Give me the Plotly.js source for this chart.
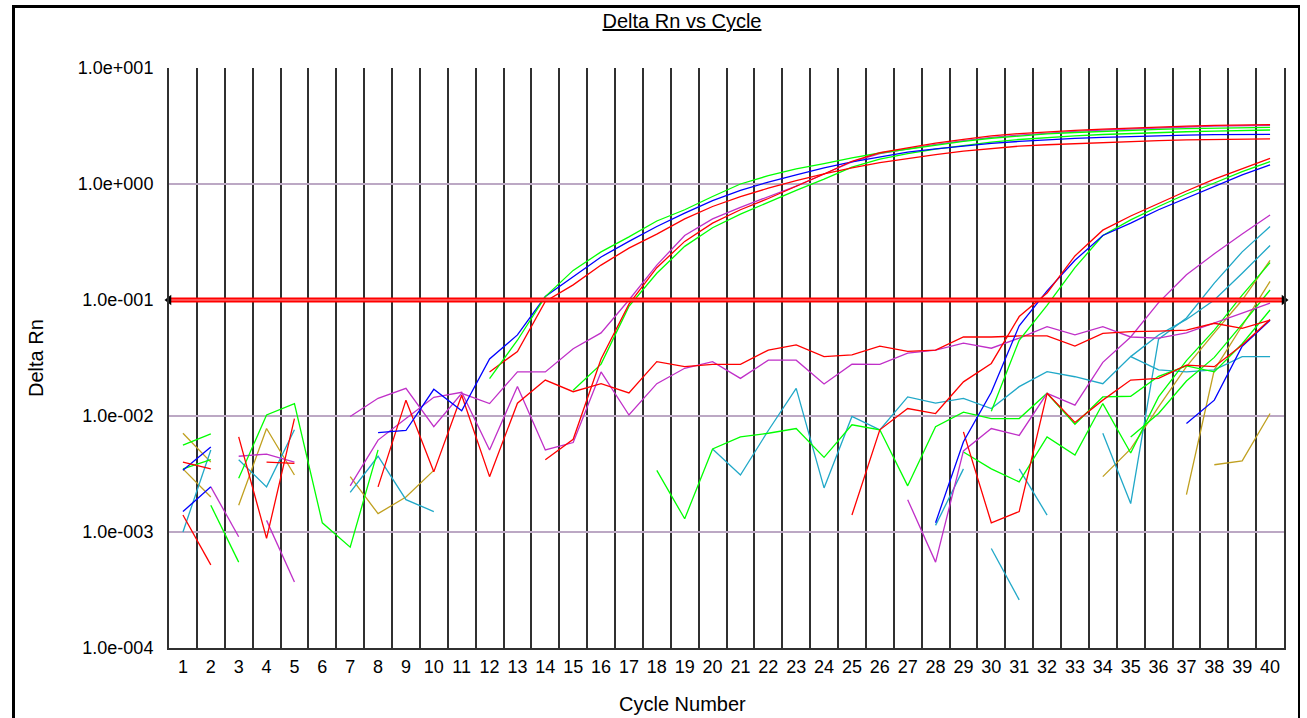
<!DOCTYPE html>
<html>
<head>
<meta charset="utf-8">
<script src="https://cdn.plot.ly/plotly-3.0.1.min.js"></script>
<style>
  html, body { margin: 0; padding: 0; background: #fff; }
  #wrap { position: relative; width: 1307px; height: 718px; overflow: hidden; }
  #chart { position: absolute; left: 0; top: 0; width: 1307px; height: 718px; }
  #frame { position: absolute; left: 12px; top: 5px; width: 1283px; height: 760px;
           border-left: 3px solid #000; border-top: 3px solid #000; border-right: 2px solid #000;
           pointer-events: none; }
</style>
</head>
<body>
<div id="wrap"><div id="chart"></div><div id="frame"></div></div>
<script>
// ---------------- data ----------------
const CYCLES = [1,2,3,4,5,6,7,8,9,10,11,12,13,14,15,16,17,18,19,20,21,22,23,24,25,26,27,28,29,30,31,32,33,34,35,36,37,38,39,40];
const CYCLE_LABELS = CYCLES.map(String);
const GRID_X = [0.5,1.5,2.5,3.5,4.5,5.5,6.5,7.5,8.5,9.5,10.5,11.5,12.5,13.5,14.5,15.5,16.5,17.5,18.5,19.5,20.5,21.5,22.5,23.5,24.5,25.5,26.5,27.5,28.5,29.5,30.5,31.5,32.5,33.5,34.5,35.5,36.5,37.5,38.5,39.5,40.5];
const Y_TICKS = [10, 1, 0.1, 0.01, 0.001, 0.0001];
const Y_TICK_LABELS = ["1.0e+001","1.0e+000","1.0e-001","1.0e-002","1.0e-003","1.0e-004"];
const THRESHOLD = 0.1;

// each series: first cycle, then Delta Rn values for consecutive cycles
const EARLY_GREEN = [12, 0.021,0.045,0.107,0.18,0.26,0.35,0.48,0.60,0.78,1.0,1.18,1.35,1.5,1.68,1.85,2.0,2.17,2.33,2.48,2.6,2.7,2.78,2.85,2.9,2.96,3.0,3.03,3.06,3.08];
const EARLY_BLUE = [8, 0.0072,0.0075,0.017,0.0111,0.031,0.05,0.107,0.16,0.235,0.32,0.43,0.56,0.72,0.88,1.04,1.2,1.38,1.55,1.72,1.88,2.01,2.13,2.24,2.33,2.41,2.47,2.52,2.57,2.61,2.64,2.66,2.67,2.68];
const EARLY_RED = [12, 0.024,0.036,0.097,0.135,0.2,0.28,0.37,0.5,0.64,0.78,0.92,1.07,1.22,1.38,1.53,1.66,1.79,1.92,2.03,2.12,2.18,2.23,2.28,2.33,2.37,2.4,2.42,2.44,2.45];
const LATE_PURPLE = [7, 0.0099,0.0142,0.0173,0.0081,0.0157,0.0128,0.024,0.024,0.038,0.052,0.1,0.2,0.36,0.5,0.63,0.78,0.96,1.22,1.55,1.83,2.02,2.2,2.36,2.52,2.64,2.75,2.84,2.92,2.99,3.05,3.1,3.15,3.18,3.21];
const LATE_RED = [14, 0.0042,0.0063,0.031,0.092,0.19,0.32,0.46,0.6,0.75,0.95,1.22,1.57,1.86,2.05,2.25,2.42,2.6,2.72,2.82,2.9,2.97,3.04,3.1,3.15,3.2,3.23,3.25];
const LATE_GREEN = [15, 0.0167,0.028,0.088,0.17,0.29,0.42,0.55,0.7,0.88,1.1,1.4,1.64,1.83,2.0,2.16,2.3,2.42,2.52,2.6,2.67,2.73,2.78,2.82,2.86,2.89,2.92];
const PURPLE_FLAT = [7, 0.0025,0.0062,0.0095,0.0145,0.016,0.0051,0.018,0.0051,0.0059,0.024,0.0102,0.019,0.0258,0.0294,0.0211,0.0303,0.0303,0.0189,0.028,0.0279,0.0348,0.037,0.0424,0.0384,0.047,0.0589,0.050,0.059,0.048,0.047,0.052,0.063,0.077,0.094];
const RED_FLAT = [8, 0.00245,0.0137,0.0033,0.0151,0.003,0.0129,0.0204,0.0162,0.019,0.0158,0.0294,0.0266,0.0279,0.0279,0.037,0.041,0.0325,0.0337,0.040,0.036,0.037,0.048,0.048,0.049,0.049,0.040,0.0516,0.0534,0.054,0.055,0.063,0.057,0.067];
const RED_C = [25, 0.0014,0.0076,0.0116,0.0105,0.0197,0.0284,0.072,0.115,0.24,0.4,0.53,0.68,0.87,1.1,1.36,1.66];
const BLUE_C = [28, 0.0012,0.006,0.016,0.06,0.12,0.22,0.36,0.46,0.6,0.76,0.96,1.2,1.46];
const GREEN_C = [30, 0.011,0.045,0.09,0.19,0.36,0.49,0.64,0.82,1.02,1.28,1.56];
const PURPLE_D = [27, 0.0019,0.00055,0.005,0.0078,0.0068,0.0157,0.0124,0.029,0.048,0.095,0.165,0.25,0.37,0.54];
const CYAN_D1 = [34, 0.0071,0.00176,0.046,0.07,0.14,0.26,0.43];
const CYAN_D2 = [35, 0.0325,0.05,0.068,0.1,0.17,0.295];
const CYAN_FLAT = [20, 0.0052,0.0031,0.0075,0.0173,0.0024,0.0099,0.0076,0.0146,0.0129,0.0142,0.0116,0.0179,0.0241,0.0218,0.019,0.0325,0.025,0.024,0.025,0.0325,0.0325];
const CYAN_SEG_A = [28, 0.00114,0.0035];
const CYAN_SEG_B = [30, 0.00072,0.00026];
const CYAN_SEG_C = [31, 0.0035,0.0014];
const GREEN_MID = [18, 0.0034,0.0013,0.0052,0.0066,0.0071,0.0078,0.0044,0.0084,0.0076,0.0025,0.0081,0.0108,0.0095,0.0095,0.0157,0.0085,0.0146,0.0148,0.022,0.027,0.024,0.042,0.082];
const GREEN_B = [29, 0.0049,0.0035,0.0027,0.0066,0.0046,0.0128,0.0048,0.0146,0.03,0.055,0.11,0.21];
const GREEN_D = [35, 0.0066,0.0105,0.02,0.032,0.062,0.122];
const RED_V = [29, 0.0073,0.0012,0.0015,0.0157,0.0088,0.0137,0.0204,0.0211,0.0274,0.0266,0.041,0.068];
const BLUE_LATE = [37, 0.0086,0.0137,0.04,0.067];
const OLIVE_D1 = [34, 0.003,0.0052,0.012,0.0266,0.052,0.1,0.22];
const OLIVE_D2 = [37, 0.0021,0.025,0.06,0.145];
const OLIVE_D3 = [38, 0.0038,0.0041,0.0105];
const GREEN_E1 = [3, 0.0029,0.0102,0.0128,0.0012,0.00074,0.0051];
const OLIVE_E1 = [3, 0.0017,0.0078,0.0031];
const CYAN_E1 = [3, 0.0042,0.00245,0.0076];
const PURPLE_E1 = [3, 0.0045,0.0047,0.004];
const RED_E1 = [4, 0.004,0.0039];
const PURPLE_E2 = [4, 0.00126,0.00037];
const RED_E2 = [3, 0.0066,0.00088,0.0095];
const GREEN_E2 = [1, 0.0056,0.007];
const OLIVE_E2 = [1, 0.0071,0.004];
const BLUE_E1 = [1, 0.0034,0.0054];
const RED_E3 = [1, 0.004,0.0035];
const GREEN_E3 = [1, 0.0035,0.0042];
const OLIVE_E3 = [1, 0.0035,0.002];
const CYAN_E2 = [1, 0.001,0.0051];
const BLUE_E2 = [1, 0.0015,0.00245];
const PURPLE_E3 = [2, 0.00245,0.00091];
const RED_E4 = [1, 0.0014,0.00052];
const GREEN_E4 = [2, 0.0017,0.00055];
const OLIVE_E4 = [7, 0.003,0.00144,0.002,0.0034];
const CYAN_E3 = [7, 0.0022,0.0045,0.0019,0.0015];

// ---------------- styling ----------------
const COL = { red:'#ff0000', green:'#00ff00', blue:'#0000ff', purple:'#c030c8', cyan:'#20a8c8', olive:'#c0a020' };

const SERIES = [
  [OLIVE_E2,'olive'],[OLIVE_E3,'olive'],[OLIVE_E1,'olive'],[OLIVE_E4,'olive'],
  [CYAN_E2,'cyan'],[CYAN_E1,'cyan'],[CYAN_E3,'cyan'],
  [PURPLE_E1,'purple'],[PURPLE_E2,'purple'],[PURPLE_E3,'purple'],
  [GREEN_E2,'green'],[GREEN_E3,'green'],[GREEN_E4,'green'],[GREEN_E1,'green'],
  [BLUE_E1,'blue'],[BLUE_E2,'blue'],
  [RED_E1,'red'],[RED_E2,'red'],[RED_E3,'red'],[RED_E4,'red'],
  [OLIVE_D3,'olive'],[OLIVE_D2,'olive'],[OLIVE_D1,'olive'],
  [CYAN_SEG_A,'cyan'],[CYAN_SEG_B,'cyan'],[CYAN_SEG_C,'cyan'],[CYAN_FLAT,'cyan'],[CYAN_D2,'cyan'],[CYAN_D1,'cyan'],
  [GREEN_MID,'green'],[GREEN_B,'green'],[GREEN_D,'green'],
  [PURPLE_FLAT,'purple'],[PURPLE_D,'purple'],
  [BLUE_LATE,'blue'],
  [RED_V,'red'],[RED_FLAT,'red'],
  [GREEN_C,'green'],[BLUE_C,'blue'],[RED_C,'red'],
  [LATE_PURPLE,'purple'],[LATE_GREEN,'green'],[EARLY_RED,'red'],[EARLY_BLUE,'blue'],[EARLY_GREEN,'green'],[LATE_RED,'red']
];

const traces = SERIES.map(([s, c]) => {
  const start = s[0], vals = s.slice(1);
  return {
    type: 'scatter', mode: 'lines',
    x: vals.map((_, i) => start + i), y: vals,
    line: { color: COL[c], width: 1.3 },
    hoverinfo: 'skip', showlegend: false
  };
});

// threshold line with arrow heads
traces.push({ type:'scatter', mode:'lines', x:[GRID_X[0], GRID_X[GRID_X.length-1]], y:[THRESHOLD, THRESHOLD],
  line:{ color:'#ff0000', width:5 }, hoverinfo:'skip', showlegend:false });
traces.push({ type:'scatter', mode:'lines', x:[GRID_X[0], GRID_X[GRID_X.length-1]], y:[THRESHOLD, THRESHOLD],
  line:{ color:'#ff9a9a', width:1 }, hoverinfo:'skip', showlegend:false });
traces.push({ type:'scatter', mode:'markers', x:[GRID_X[0], GRID_X[GRID_X.length-1]], y:[THRESHOLD, THRESHOLD],
  marker:{ symbol:['triangle-left','triangle-right'], size:9, color:'#000' }, hoverinfo:'skip', showlegend:false, cliponaxis:false });
// label axis carrier
traces.push({ type:'scatter', mode:'markers', x: CYCLES, y: CYCLES.map(() => null), xaxis:'x2', yaxis:'y', hoverinfo:'skip', showlegend:false });

const FONT = { family: '"Liberation Sans", Arial, sans-serif', size: 18, color: '#000' };
const TITLE_FONT = { family: '"Liberation Sans", Arial, sans-serif', size: 20, color: '#000' };

const layout = {
  width: 1307, height: 718,
  margin: { l: 169, r: 23, t: 68, b: 70 },
  paper_bgcolor: '#fff', plot_bgcolor: '#fff',
  font: FONT,
  showlegend: false,
  title: { text: '<u>Delta Rn vs Cycle</u>', font: TITLE_FONT, x: 682/1307, xref: 'container', xanchor: 'center', y: 1 - 21/718, yref: 'container', yanchor: 'middle' },
  xaxis: {
    range: [0.5, 40.5], tickmode: 'array', tickvals: GRID_X, showticklabels: false,
    showgrid: true, gridcolor: '#303030', gridwidth: 2, zeroline: false,
    showline: true, linecolor: '#303030', linewidth: 2, ticks: ''
  },
  xaxis2: {
    overlaying: 'x', anchor: 'y', side: 'bottom', range: [0.5, 40.5],
    tickmode: 'array', tickvals: CYCLES, ticktext: CYCLE_LABELS, showgrid: false, zeroline: false,
    ticks: '', ticklabelstandoff: 6, tickfont: FONT, showline: false
  },
  yaxis: {
    type: 'log', range: [-4, 1], tickmode: 'array', tickvals: Y_TICKS, ticktext: Y_TICK_LABELS,
    showgrid: true, gridcolor: '#bca8c4', gridwidth: 1.5, zeroline: false,
    showline: true, mirror: true, linecolor: '#303030', linewidth: 2, ticks: '', ticklabelstandoff: 10, tickfont: FONT
  },
  annotations: [
    { text: 'Cycle Number', xref: 'paper', yref: 'paper', x: (682-169)/1115, y: -(703-647.5)/579, xanchor:'center', yanchor:'middle', showarrow:false, font: TITLE_FONT },
    { text: 'Delta Rn', xref: 'paper', yref: 'paper', x: (36-169)/1115, y: 0.5, xanchor:'center', yanchor:'middle', textangle: -90, showarrow:false, font: TITLE_FONT }
  ]
};

Plotly.newPlot('chart', traces, layout, { staticPlot: true, displayModeBar: false });
</script>
</body>
</html>
